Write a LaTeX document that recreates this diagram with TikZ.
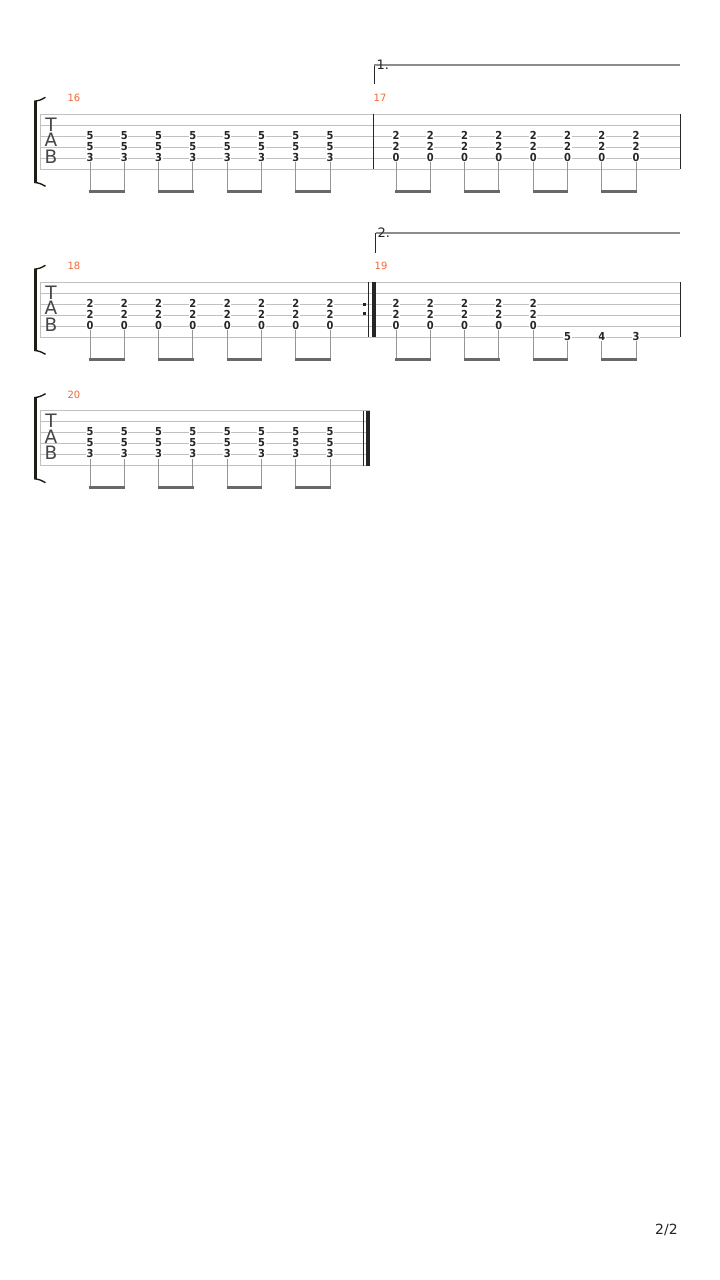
\documentclass[tikz,border=0pt]{standalone}
\usepackage{fontspec}
\setmainfont{DejaVu Sans}
\newfontfamily\tabfont{DejaVu Sans Condensed}
\definecolor{staffc}{RGB}{192,192,192}
\definecolor{numc}{RGB}{242,102,58}
\definecolor{inkc}{RGB}{38,38,38}
\definecolor{beamc}{RGB}{105,105,105}
\definecolor{stemc}{RGB}{150,150,150}
\definecolor{brkc}{RGB}{30,30,22}
\definecolor{voltac}{RGB}{140,140,140}
\newcommand\tabmeasure[6]{%
  \foreach \i in {0,...,7} {
    \pgfmathsetmacro\xx{#2+34.3*\i}
    \node[digit] (#1a\i) at (\xx,#3+21.3) {#4};
    \node[digit] (#1b\i) at (\xx,#3+32.3) {#5};
    \node[digit] (#1c\i) at (\xx,#3+43.3) {#6};
    \coordinate (#1e\i) at (\xx,#3+77);
    \draw[stem] (#1c\i.south) -- (#1e\i);
  }
  \foreach \i/\j in {0/1,2/3,4/5,6/7}
    \draw[beam] ([xshift=-0.6pt]#1e\i) -- ([xshift=0.6pt]#1e\j);
}
\newcommand\tabstaff[3]{% id, top, right end
  \foreach \k in {0,...,5}
    \draw[staffline] (40,#2+11*\k) -- (#3,#2+11*\k);
  \draw[staffline] (40,#2) -- (40,#2+55);
  \fill[brkc] (34,#2-13) rectangle (37,#2+68);
  \draw[brkc, line width=1.4pt] (34.2,#2-13) .. controls (40,#2-14) .. (45.5,#2-17);
  \draw[brkc, line width=1.4pt] (34.2,#2+68) .. controls (40,#2+69) .. (45.5,#2+72);
  \node[tabletter] (#1T) at (51,#2+10.2) {T};
  \node[tabletter] (#1A) at (51,#2+25.9) {A};
  \node[tabletter] (#1B) at (51,#2+42.2) {B};
}
\begin{document}
\begin{tikzpicture}[x=1pt,y=-1pt,
  staffline/.style={draw=staffc, line width=0.9pt},
  digit/.style={font=\tabfont\bfseries\fontsize{11}{11}\selectfont, text=inkc,
    fill=white, inner sep=0.6pt, text height=7.9pt, text depth=0pt},
  stem/.style={draw=stemc, line width=1pt},
  beam/.style={draw=beamc, line width=2.6pt},
  barl/.style={draw=inkc, line width=1pt},
  thickbar/.style={draw=inkc, line width=3.8pt},
  mnum/.style={font=\fontsize{10}{10}\selectfont, text=numc, inner sep=0pt},
  tabletter/.style={font=\fontsize{18.5}{18.5}\selectfont, text=inkc!85, inner sep=0pt,
    text height=13.5pt, text depth=0pt},
  voltatext/.style={font=\fontsize{13}{13}\selectfont, text=inkc, inner sep=0pt, anchor=west},
  voltah/.style={draw=voltac, line width=1.4pt},
  voltav/.style={draw=inkc, line width=1pt}]
\fill[white] (0,0) rectangle (720,1280);
\useasboundingbox (0,0) rectangle (720,1280);

% ---------- system 1 ----------
\tabstaff{s1}{114.3}{680}
\node[mnum] (n16) at (74,98) {16};
\node[mnum] (n17) at (380,98) {17};
\tabmeasure{m16}{90}{114.3}{5}{5}{3}
\tabmeasure{m17}{396}{114.3}{2}{2}{0}
\draw[barl] (373.3,114.3) -- (373.3,169.3);
\draw[barl] (680,114.3) -- (680,169.3);
\coordinate (v1b) at (374,84);
\coordinate (v1t) at (374,65);
\coordinate (v1e) at (680,65);
\draw[voltav] (v1b) -- (v1t);
\draw[voltah] (v1t) -- (v1e);
\node[voltatext] (v1) at (376.5,64.5) {1.};

% ---------- system 2 ----------
\tabstaff{s2}{282.3}{680}
\node[mnum] (n18) at (74,266) {18};
\node[mnum] (n19) at (381,266) {19};
\tabmeasure{m18}{90}{282.3}{2}{2}{0}
\foreach \i in {0,...,4} {
  \pgfmathsetmacro\xx{396+34.3*\i}
  \node[digit] (m19a\i) at (\xx,282.3+21.3) {2};
  \node[digit] (m19b\i) at (\xx,282.3+32.3) {2};
  \node[digit] (m19c\i) at (\xx,282.3+43.3) {0};
  \coordinate (m19e\i) at (\xx,282.3+77);
  \draw[stem] (m19c\i.south) -- (m19e\i);
}
\foreach \i/\d in {5/5,6/4,7/3} {
  \pgfmathsetmacro\xx{396+34.3*\i}
  \node[digit] (m19c\i) at (\xx,282.3+54.3) {\d};
  \coordinate (m19e\i) at (\xx,282.3+77);
  \draw[stem] (m19c\i.south) -- (m19e\i);
}
\foreach \i/\j in {0/1,2/3,4/5,6/7}
  \draw[beam] ([xshift=-0.6pt]m19e\i) -- ([xshift=0.6pt]m19e\j);
\draw[barl] (368.6,282.3) -- (368.6,337.3);
\draw[thickbar] (374,282.3) -- (374,337.3);
\fill[inkc] (362.8,303.2) rectangle (365.6,306);
\fill[inkc] (362.8,312.4) rectangle (365.6,315.2);
\draw[barl] (680,282.3) -- (680,337.3);
\coordinate (v2b) at (375.5,252.5);
\coordinate (v2t) at (375.5,233);
\coordinate (v2e) at (680,233);
\draw[voltav] (v2b) -- (v2t);
\draw[voltah] (v2t) -- (v2e);
\node[voltatext] (v2) at (377.5,232.5) {2.};

% ---------- system 3 ----------
\tabstaff{s3}{410.7}{370}
\node[mnum] (n20) at (74,394.5) {20};
\tabmeasure{m20}{90}{410.7}{5}{5}{3}
\draw[barl] (363.3,410.7) -- (363.3,465.7);
\draw[thickbar] (368,410.7) -- (368,465.7);

% ---------- page number ----------
\node[font=\fontsize{14}{14}\selectfont, text=inkc, inner sep=0pt] (pg) at (666.5,1229.5) {2/2};
\end{tikzpicture}
\end{document}
